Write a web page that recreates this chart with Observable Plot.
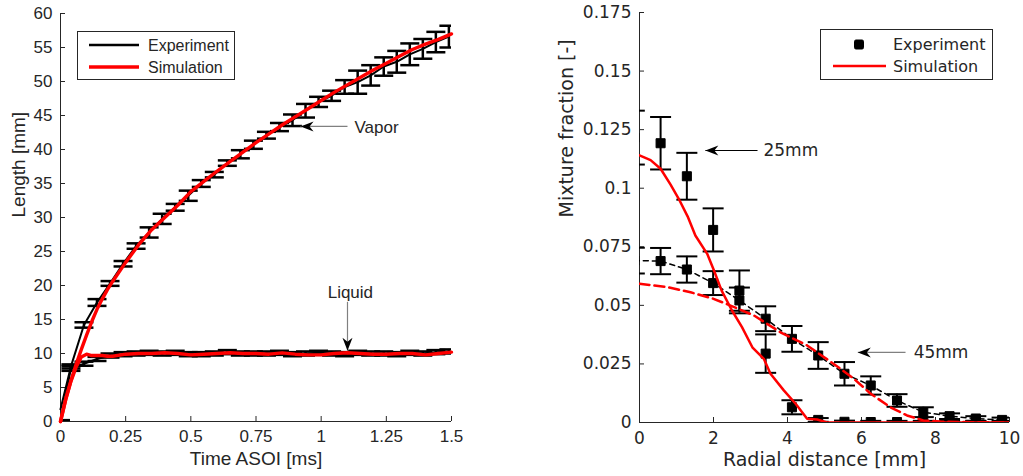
<!DOCTYPE html>
<html><head><meta charset="utf-8">
<script src="https://cdn.jsdelivr.net/npm/d3@7"></script>
<script src="https://cdn.jsdelivr.net/npm/@observablehq/plot@0.6"></script>
<style>
body{margin:0;background:#fff;}
#fig{position:relative;width:1023px;height:476px;overflow:hidden;background:#fff;}
#left{position:absolute;left:0;top:0;}
#right{position:absolute;left:510px;top:0;}
.legend{position:absolute;background:#fff;border:1px solid #262626;box-sizing:border-box;}
.legend svg{display:block;}
</style></head>
<body>
<div id="fig"><div id="left"></div><div id="right"></div>
<div class="legend" id="legL" style="left:77px;top:31px;width:158px;height:49px;">
<svg width="156" height="47">
<line x1="11" x2="61" y1="13" y2="13" stroke="#000" stroke-width="2.5"/>
<line x1="11" x2="61" y1="35" y2="35" stroke="#ff0000" stroke-width="3.5"/>
<text x="70" y="13" dy="0.35em" font-family="Liberation Sans, Arial, sans-serif" font-size="16" fill="#262626">Experiment</text>
<text x="70" y="35" dy="0.35em" font-family="Liberation Sans, Arial, sans-serif" font-size="16" fill="#262626">Simulation</text>
</svg></div>
<div class="legend" id="legR" style="left:820px;top:29px;width:173px;height:51px;">
<svg width="171" height="49">
<rect x="33.5" y="10" width="9" height="9" rx="1.5" fill="#000" stroke="#000" stroke-width="1" stroke-linejoin="round"/>
<line x1="12" x2="65" y1="36" y2="36" stroke="#ff0000" stroke-width="2.5"/>
<text x="72" y="14.5" dy="0.35em" font-family="DejaVu Sans, sans-serif" font-size="16" fill="#262626">Experiment</text>
<text x="72" y="36" dy="0.35em" font-family="DejaVu Sans, sans-serif" font-size="16" fill="#262626">Simulation</text>
</svg></div>
</div>
<script>
// ---------- Left panel data ----------
const timeExp = [0, 0.04, 0.09, 0.14, 0.19, 0.24, 0.29, 0.34, 0.39, 0.44, 0.49, 0.54, 0.59, 0.64, 0.69, 0.74, 0.79, 0.84, 0.89, 0.94, 0.99, 1.04, 1.09, 1.14, 1.19, 1.24, 1.29, 1.34, 1.39, 1.44, 1.49];
const vaporExp = [1.8, 8.1, 14.2, 17.5, 20.3, 23.2, 25.8, 27.8, 29.8, 31.5, 33.2, 35.0, 36.3, 38.0, 39.3, 40.7, 42.1, 43.3, 44.3, 45.7, 47.0, 47.9, 49.2, 49.9, 50.9, 52.2, 52.9, 54.0, 54.8, 55.8, 56.6];
const vaporErr = [0, 0.3, 0.4, 0.5, 0.35, 0.4, 0.4, 0.75, 0.75, 0.5, 0.75, 0.5, 0.4, 0.4, 0.6, 0.6, 0.5, 0.6, 0.85, 1.0, 0.75, 0.75, 1.0, 1.7, 1.5, 1.35, 1.6, 1.6, 1.45, 1.5, 1.6];
const liquidExp = [0, 7.8, 8.5, 9.2, 9.7, 9.9, 10.0, 10.1, 10.0, 10.1, 9.9, 9.9, 10.0, 10.2, 10.0, 10.0, 10.0, 10.1, 9.9, 10.0, 10.1, 10.0, 9.9, 10.1, 10.0, 10.0, 9.9, 10.1, 10.0, 10.2, 10.3];
const liquidErr = [0.2, 0.35, 0.3, 0.3, 0.3, 0.3, 0.3, 0.3, 0.3, 0.3, 0.3, 0.3, 0.3, 0.3, 0.3, 0.3, 0.3, 0.3, 0.3, 0.3, 0.3, 0.3, 0.3, 0.3, 0.3, 0.3, 0.3, 0.3, 0.3, 0.3, 0.3];
const simTime = [0, 0.02, 0.04, 0.06, 0.08, 0.10, 0.12, 0.14, 0.16, 0.18, 0.20, 0.25, 0.30, 0.35, 0.40, 0.45, 0.50, 0.55, 0.60, 0.65, 0.70, 0.75, 0.80, 0.85, 0.90, 0.95, 1.00, 1.05, 1.10, 1.15, 1.20, 1.25, 1.30, 1.35, 1.40, 1.45, 1.50];
const simVapor = [0, 3.3, 6.0, 8.4, 10.6, 12.7, 14.7, 16.5, 18.0, 19.4, 20.6, 23.4, 26.0, 28.2, 30.0, 31.8, 33.8, 35.3, 36.8, 38.2, 39.6, 41.0, 42.3, 43.6, 44.8, 46.0, 47.2, 48.4, 49.5, 50.6, 51.7, 52.7, 53.7, 54.7, 55.5, 56.2, 57.0];
const simLiquid = [0, 3.2, 5.9, 8.0, 9.5, 9.9, 9.7, 9.7, 9.7, 9.6, 9.6, 9.9, 10.0, 10.0, 10.1, 10.0, 9.8, 9.9, 10.0, 10.1, 10.0, 10.0, 9.9, 10.1, 9.9, 9.8, 9.8, 10.0, 10.1, 10.0, 9.9, 9.9, 10.0, 10.0, 9.8, 10.0, 10.2];
const xTicksL = [0, 0.25, 0.5, 0.75, 1, 1.25, 1.5];
const yTicksL = [0, 5, 10, 15, 20, 25, 30, 35, 40, 45, 50, 55, 60];
const labelsL = {x: "Time ASOI [ms]", y: "Length [mm]"};
const notesLStart = [{x: 1.128, y: 43.3, text: "Vapor"}];
const notesLMid = [{x: 1.112, y: 19.0, text: "Liquid"}];
const arrowsL = [{x1: 1.101, y1: 43.4, x2: 0.921, y2: 43.4, dir: "left"}, {x1: 1.101, y1: 17.6, x2: 1.101, y2: 10.4, dir: "down"}];

// ---------- Right panel data ----------
const radialExp = [-0.14, 0.57, 1.28, 1.99, 2.70, 3.41, 4.12, 4.83, 5.54, 6.25, 6.96, 7.67, 8.38, 9.09, 9.80];
const exp25 = [0.1216, 0.1192, 0.1051, 0.0822, 0.0563, 0.0294, 0.0065, 0.0011, 0.0003, 0.0002, 0.0002, 0.0002, 0.0002, 0.0002, 0.0002];
const err25 = [0.0115, 0.0112, 0.0100, 0.0092, 0.0086, 0.0082, 0.0030, 0.0008, 0.0005, 0.0005, 0.0005, 0.0005, 0.0005, 0.0005, 0.0005];
const exp45 = [0.0691, 0.0689, 0.0653, 0.0595, 0.0521, 0.0443, 0.0357, 0.0286, 0.0208, 0.0158, 0.0094, 0.0044, 0.0027, 0.0017, 0.0011];
const err45 = [0.0055, 0.0056, 0.0056, 0.0051, 0.0055, 0.0053, 0.0055, 0.0057, 0.0050, 0.0039, 0.0027, 0.0021, 0.0012, 0.0010, 0.0010];
const sim25R = [0, 0.30, 0.57, 0.84, 1.06, 1.30, 1.51, 1.83, 2.01, 2.22, 2.50, 2.77, 3.05, 3.36, 3.54, 3.90, 4.22, 4.53, 4.80, 5.07, 6, 7, 8, 9, 10];
const sim25 = [0.1140, 0.1120, 0.1083, 0.1015, 0.0955, 0.0880, 0.0798, 0.0720, 0.0650, 0.0563, 0.0478, 0.0407, 0.0321, 0.0272, 0.0208, 0.0137, 0.0080, 0.0016, 0.0013, 0, 0, 0, 0, 0, 0];
const sim45R = [0, 0.75, 1.38, 2.00, 2.46, 3.09, 3.81, 4.53, 5.25, 5.79, 6.24, 6.78, 7.23, 7.67, 8.13, 9, 10];
const sim45 = [0.0592, 0.0578, 0.0556, 0.0528, 0.0499, 0.0457, 0.0385, 0.0329, 0.0250, 0.0187, 0.0124, 0.0065, 0.0030, 0.0009, 0.0004, 0.0001, 0];
const xTicksR = [0, 2, 4, 6, 8, 10];
const yTicksR = [0, 0.025, 0.05, 0.075, 0.1, 0.125, 0.15, 0.175];
const labelsR = {x: "Radial distance [mm]", y: "Mixture fraction [-]"};
const notesR = [{x: 3.35, y: 0.1161, text: "25mm"}, {x: 7.41, y: 0.0299, text: "45mm"}];
const arrowsR = [{x1: 3.19, y1: 0.1161, x2: 1.78, y2: 0.1161, color: "#000"}, {x1: 7.19, y1: 0.0299, x2: 5.90, y2: 0.0299, color: "#808080"}];

// ---------- helpers ----------
const ink = "#262626";
const fmt = d => String(d);
const cap = {draw(ctx, size) { const w = Math.sqrt(size / Math.PI); ctx.moveTo(-w, 0); ctx.lineTo(w, 0); }};
const headLeft = {draw(ctx) { ctx.moveTo(0, 0); ctx.lineTo(13, -5); ctx.lineTo(9, 0); ctx.lineTo(13, 5); ctx.closePath(); }};
const headDown = {draw(ctx) { ctx.moveTo(0, 0); ctx.lineTo(-5, -13); ctx.lineTo(0, -9); ctx.lineTo(5, -13); ctx.closePath(); }};

function errorBars(data, x, y, e, opts) {
  const d = data.filter(v => v[e] > 0);
  return [
    Plot.ruleX(d, {x, y1: v => v[y] - v[e], y2: v => v[y] + v[e], stroke: "#000", strokeWidth: opts.w, clip: true}),
    Plot.dot(d, {x, y: v => v[y] + v[e], symbol: cap, r: opts.r, fill: "none", stroke: "#000", strokeWidth: opts.w, clip: true}),
    Plot.dot(d, {x, y: v => v[y] - v[e], symbol: cap, r: opts.r, fill: "none", stroke: "#000", strokeWidth: opts.w, clip: true})
  ];
}

function axes(xTicks, yTicks, labels, xPad, yPad, xLabDy, yLabDx) {
  return [
    Plot.axisX(xTicks, {tickSize: 5, dy: -5, fill: "none", stroke: ink}),
    Plot.axisY(yTicks, {tickSize: 5, dx: 5, fill: "none", stroke: ink}),
    Plot.axisX(xTicks, {tickSize: 0, tickPadding: xPad, tickFormat: fmt, label: null, fill: ink, fontSize: 17}),
    Plot.axisY(yTicks, {tickSize: 0, tickPadding: yPad, tickFormat: fmt, label: null, fill: ink, fontSize: 17}),
    Plot.ruleX([0], {stroke: ink, strokeWidth: 1}),
    Plot.ruleY([0], {stroke: ink, strokeWidth: 1}),
    Plot.text([labels.x], {text: d => d, frameAnchor: "bottom", dy: xLabDy, fontSize: 19, fill: ink}),
    Plot.text([labels.y], {text: d => d, frameAnchor: "left", dx: yLabDx, rotate: -90, fontSize: 19, fill: ink})
  ];
}

// ---------- Left plot ----------
const vapor = timeExp.map((t, i) => ({t, v: vaporExp[i], e: vaporErr[i]}));
const liquid = timeExp.map((t, i) => ({t, v: liquidExp[i], e: liquidErr[i]}));
const simV = simTime.map((t, i) => ({t, v: simVapor[i]}));
const simL = simTime.map((t, i) => ({t, v: simLiquid[i]}));

const left = Plot.plot({
  width: 510, height: 476,
  marginLeft: 60, marginRight: 59, marginTop: 13, marginBottom: 55,
  x: {domain: [0, 1.5]},
  y: {domain: [0, 60]},
  style: {fontFamily: "Liberation Sans, Arial, sans-serif", color: ink, background: "white", overflow: "visible"},
  marks: [
    ...axes(xTicksL, yTicksL, labelsL, 8, 8, 43, -42),
    ...errorBars(liquid, "t", "v", "e", {w: 2.5, r: 9.5}),
    ...errorBars(vapor, "t", "v", "e", {w: 2.5, r: 9.5}),
    Plot.line(liquid, {x: "t", y: "v", stroke: "#000", strokeWidth: 2}),
    Plot.line(vapor, {x: "t", y: "v", stroke: "#000", strokeWidth: 2}),
    Plot.line(simL, {x: "t", y: "v", stroke: "#ff0000", strokeWidth: 3.4}),
    Plot.line(simV, {x: "t", y: "v", stroke: "#ff0000", strokeWidth: 3.4}),
    Plot.link(arrowsL, {x1: "x1", y1: "y1", x2: "x2", y2: "y2", stroke: "#808080", strokeWidth: 1.2}),
    Plot.dot(arrowsL.filter(a => a.dir === "left"), {x: "x2", y: "y2", symbol: headLeft, r: 5, fill: "#000", stroke: "none"}),
    Plot.dot(arrowsL.filter(a => a.dir === "down"), {x: "x2", y: "y2", symbol: headDown, r: 5, fill: "#000", stroke: "none"}),
    Plot.text(notesLStart, {x: "x", y: "y", text: "text", textAnchor: "start", fontSize: 17, fill: ink}),
    Plot.text(notesLMid, {x: "x", y: "y", text: "text", textAnchor: "middle", fontSize: 17, fill: ink})
  ]
});
document.getElementById("left").appendChild(left);

// ---------- Right plot ----------
const e25 = radialExp.map((r, i) => ({r, v: exp25[i], e: err25[i]}));
const e45 = radialExp.map((r, i) => ({r, v: exp45[i], e: err45[i]}));
const s25 = sim25R.map((r, i) => ({r, v: sim25[i]}));
const s45 = sim45R.map((r, i) => ({r, v: sim45[i]}));

const right = Plot.plot({
  width: 513, height: 476,
  marginLeft: 129, marginRight: 14, marginTop: 12, marginBottom: 54,
  x: {domain: [0, 10]},
  y: {domain: [0, 0.175]},
  style: {fontFamily: "DejaVu Sans, sans-serif", color: ink, background: "white", overflow: "visible"},
  marks: [
    ...axes(xTicksR, yTicksR, labelsR, 9, 8, 43, -73),
    ...errorBars(e45, "r", "v", "e", {w: 2, r: 10.5}),
    ...errorBars(e25, "r", "v", "e", {w: 2, r: 10.5}),
    Plot.line(e45, {x: "r", y: "v", stroke: "#000", strokeWidth: 1.5, strokeDasharray: "5,4", clip: true}),
    Plot.dot(e45, {x: "r", y: "v", symbol: "square", r: 5.1, fill: "#000", stroke: "#000", strokeWidth: 1, strokeLinejoin: "round", clip: true}),
    Plot.dot(e25, {x: "r", y: "v", symbol: "square", r: 5.1, fill: "#000", stroke: "#000", strokeWidth: 1, strokeLinejoin: "round", clip: true}),
    Plot.line(s45, {x: "r", y: "v", stroke: "#ff0000", strokeWidth: 2.5, strokeDasharray: "10,5", clip: true}),
    Plot.line(s25, {x: "r", y: "v", stroke: "#ff0000", strokeWidth: 2.5, clip: true}),
    Plot.link(arrowsR, {x1: "x1", y1: "y1", x2: "x2", y2: "y2", stroke: "color", strokeWidth: 1.2}),
    Plot.dot(arrowsR, {x: "x2", y: "y2", symbol: headLeft, r: 5, fill: "#000", stroke: "none"}),
    Plot.text(notesR, {x: "x", y: "y", text: "text", textAnchor: "start", fontSize: 17, fill: ink})
  ]
});
document.getElementById("right").appendChild(right);
</script>
</body></html>
